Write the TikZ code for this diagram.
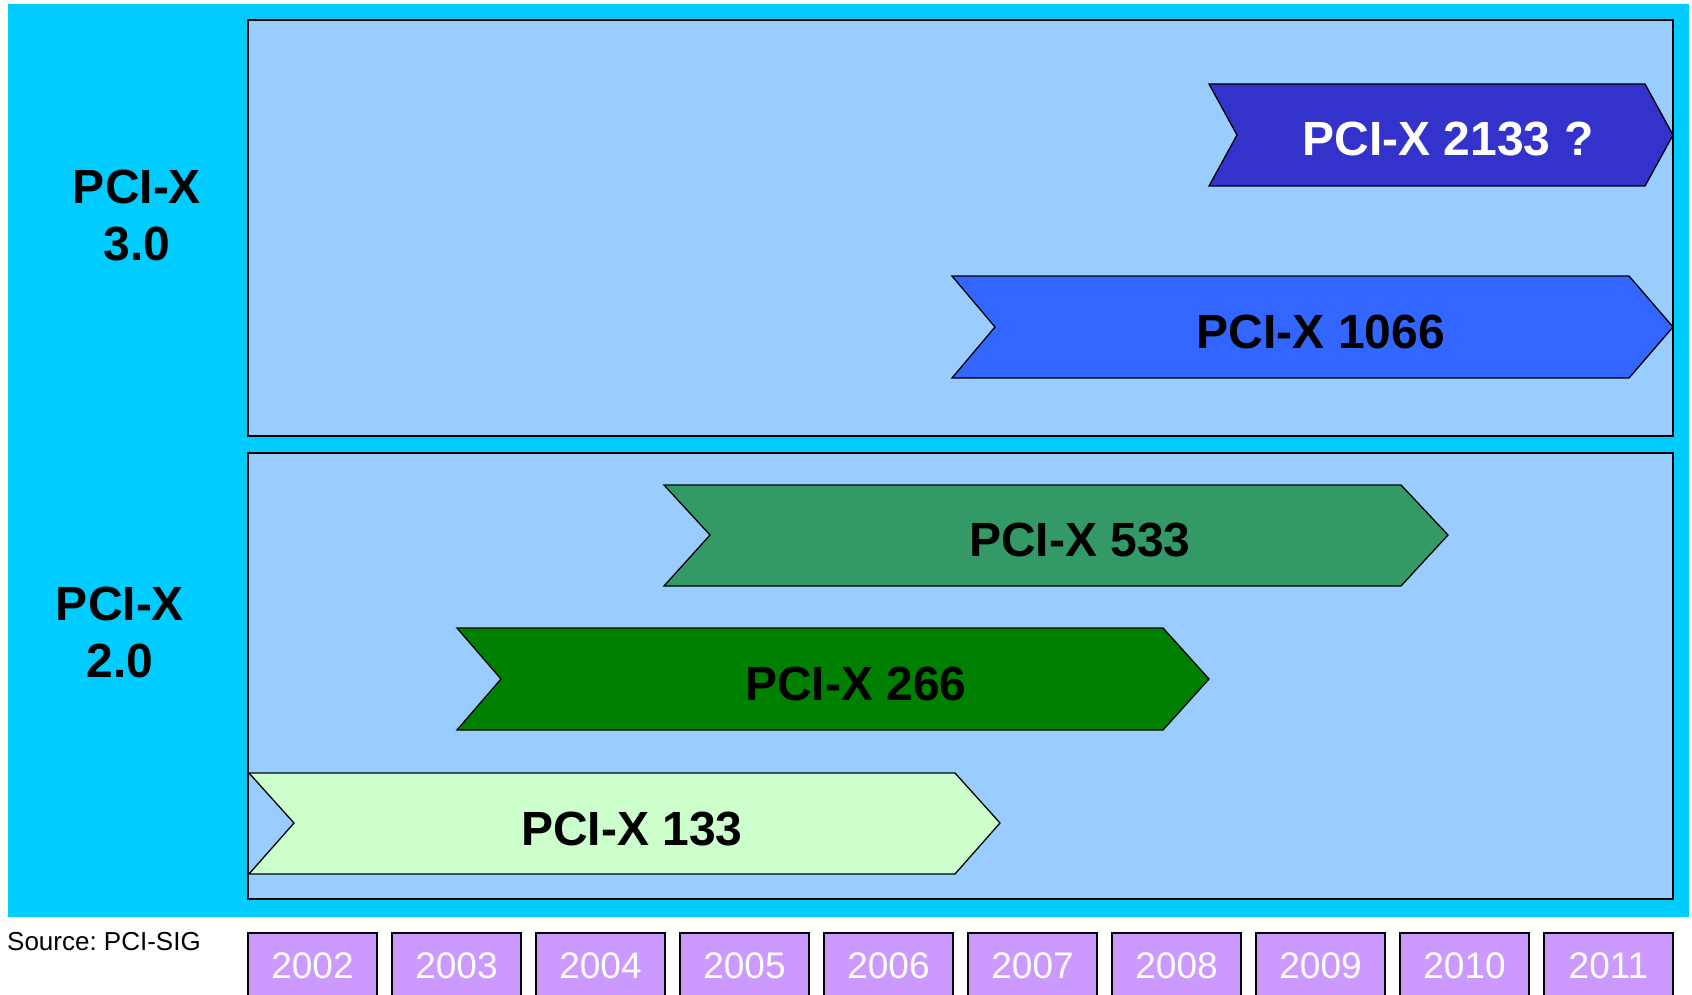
\documentclass[tikz,border=0pt]{standalone}
\usepackage{fontspec}
\setmainfont{Liberation Sans}
\usepackage{xcolor}
\usepackage{tikz}

\definecolor{slidecyan}{HTML}{00CCFF}
\definecolor{panelblue}{HTML}{99CCFF}
\definecolor{yearpurple}{HTML}{CC99FF}
\definecolor{gen2133}{HTML}{3333CC}
\definecolor{gen1066}{HTML}{3366FF}
\definecolor{gen533}{HTML}{339966}
\definecolor{gen266}{HTML}{008000}
\definecolor{gen133}{HTML}{CCFFCC}

\frenchspacing

\begin{document}
\begin{tikzpicture}[
  x=1pt, y=-1pt,
  panel/.style={draw=black, line width=1.5pt, fill=panelblue},
  bar/.style={draw=black, line width=1.3pt, line join=miter},
  barlabel/.style={font=\fontsize{48}{57}\selectfont\bfseries, inner sep=0pt},
  genlabel/.style={font=\fontsize{48}{57}\selectfont\bfseries, align=center, inner sep=0pt},
  yearbox/.style={draw=black, line width=1.5pt, fill=yearpurple, text=white,
    font=\fontsize{37}{44}\selectfont, minimum width=129pt, minimum height=66pt,
    inner sep=0pt, anchor=north}
]
  \useasboundingbox (0,0) rectangle (1692,995);
  \fill[white] (0,0) rectangle (1692,995);
  \fill[slidecyan] (8,4) rectangle (1689,917);

  \draw[panel] (248,20) rectangle (1673,436);
  \draw[panel] (248,453) rectangle (1673,899);

  \node[genlabel] (gen3) at (137,216) {PCI-X\\3.0};
  \node[genlabel] (gen2) at (120,632) {PCI-X\\2.0};

  \draw[bar, fill=gen2133] (1209,84) -- (1645,84) -- (1673,135) -- (1645,186)
    -- (1209,186) -- (1237,135) -- cycle;
  \node[barlabel, text=white] (x2133) at (1448,139) {PCI-X 2133 ?};

  \draw[bar, fill=gen1066] (952,276) -- (1629,276) -- (1673,327) -- (1629,378)
    -- (952,378) -- (995,327) -- cycle;
  \node[barlabel] (x1066) at (1321,332) {PCI-X 1066};

  \draw[bar, fill=gen533] (664,485) -- (1401,485) -- (1448,535) -- (1401,586)
    -- (664,586) -- (710,535) -- cycle;
  \node[barlabel] (x533) at (1080,540) {PCI-X 533};

  \draw[bar, fill=gen266] (457,628) -- (1163,628) -- (1209,679) -- (1163,730)
    -- (457,730) -- (501,679) -- cycle;
  \node[barlabel] (x266) at (856,684) {PCI-X 266};

  \draw[bar, fill=gen133] (249,773) -- (955,773) -- (1000,823) -- (955,874)
    -- (249,874) -- (294,823) -- cycle;
  \node[barlabel] (x133) at (632,829) {PCI-X 133};

  \node[font=\fontsize{26}{31}\selectfont, inner sep=0pt] (source) at (104,942) {Source: PCI-SIG};

  \foreach \yr [count=\i from 0] in {2002,...,2011}
    \node[yearbox] (year\yr) at (312.5+144*\i,932) {\yr};
\end{tikzpicture}
\end{document}
